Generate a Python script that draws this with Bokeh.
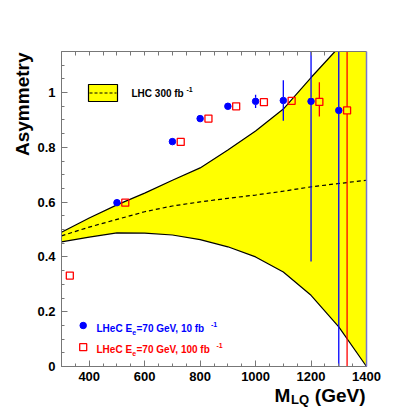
import numpy as np
from bokeh.plotting import figure
from bokeh.models import Label, LinearAxis, Range1d, FixedTicker
from bokeh.embed import file_html
from bokeh.resources import INLINE

# ---------------- data ----------------
band_mass = [300, 400, 500, 600, 700, 800, 900, 1000, 1100, 1200, 1300, 1400]
band_upper = [0.49, 0.542, 0.59, 0.633, 0.68, 0.725, 0.79, 0.86, 0.94, 1.055, 1.165, 1.28]
band_lower = [0.455, 0.472, 0.488, 0.487, 0.480, 0.463, 0.437, 0.40, 0.345, 0.26, 0.145, 0.0]
band_central = [0.477, 0.509, 0.537, 0.565, 0.586, 0.601, 0.614, 0.626, 0.64, 0.656, 0.668, 0.68]

lhec10_mass = [500, 700, 800, 900, 1000, 1100, 1200, 1300]
lhec10_asym = [0.598, 0.821, 0.905, 0.95, 0.968, 0.971, 0.968, 0.935]
lhec10_err_lo = [0.005, 0.006, 0.008, 0.012, 0.024, 0.074, 0.585, 1.0]
lhec10_err_hi = [0.005, 0.006, 0.008, 0.012, 0.024, 0.074, 0.585, 1.0]

lhec100_mass = [330, 530, 730, 830, 930, 1030, 1130, 1230, 1330]
lhec100_asym = [0.332, 0.598, 0.82, 0.905, 0.95, 0.965, 0.97, 0.966, 0.935]
lhec100_err_lo = [0.003, 0.003, 0.003, 0.004, 0.005, 0.008, 0.012, 0.053, 1.0]
lhec100_err_hi = [0.003, 0.003, 0.003, 0.004, 0.005, 0.008, 0.012, 0.072, 1.0]

x_ticks = [400, 600, 800, 1000, 1200, 1400]
y_ticks = [0, 0.2, 0.4, 0.6, 0.8, 1.0]
y_tick_labels = ["0", "0.2", "0.4", "0.6", "0.8", "1"]

# ---------------- geometry (canvas px) ----------------
W = H = 407
X0, X1, PX0, PX1 = 300.0, 1400.0, 61.0, 366.0   # data x range and its pixel span
Y0, Y1, PY0, PY1 = 0.0, 1.15, 366.0, 51.0       # data y range and its pixel span
SX = (X1 - X0) / (PX1 - PX0)
SY = (Y1 - Y0) / (PY0 - PY1)
BASE_K = 0.3   # renderer places the text slightly below the requested baseline


def px2x(px):
    return X0 + (px - PX0) * SX


def py2y(py):
    return Y0 + (PY0 - py) * SY


FONT = "Liberation Sans"
AX = "#777777"
MARK = 7  # marker size, px

# the frame covers the whole canvas; axes are pinned to the data box
p = figure(width=W, height=H, x_range=Range1d(px2x(0), px2x(W)), y_range=Range1d(py2y(H), py2y(0)),
           output_backend="svg", toolbar_location=None, min_border=0,
           x_axis_location=None, y_axis_location=None)
p.grid.visible = False
p.outline_line_color = None
p.background_fill_color = "white"
p.border_fill_color = "white"

x_minor = list(np.arange(300, 1401, 50))
y_minor = list(np.round(np.arange(0, 1.151, 0.05), 3))


def style(ax, major_in=6, minor_in=3):
    ax.axis_line_color = AX
    ax.major_tick_line_color = AX
    ax.minor_tick_line_color = AX
    ax.major_tick_in = major_in
    ax.major_tick_out = 0
    ax.minor_tick_in = minor_in
    ax.minor_tick_out = 0
    ax.major_label_text_font = FONT
    ax.major_label_text_font_style = "bold"
    ax.major_label_text_font_size = "13px"
    ax.major_label_text_color = "black"


xb = LinearAxis(fixed_location=Y0, bounds=(X0, X1),
                ticker=FixedTicker(ticks=x_ticks, minor_ticks=x_minor), major_label_standoff=5)
style(xb)
p.add_layout(xb, "below")

yl = LinearAxis(fixed_location=X0, bounds=(Y0, Y1),
                ticker=FixedTicker(ticks=y_ticks, minor_ticks=y_minor), major_label_standoff=6,
                major_label_overrides={t: s for t, s in zip(y_ticks, y_tick_labels)})
style(yl)
p.add_layout(yl, "left")

xt = LinearAxis(fixed_location=Y1, bounds=(X0, X1),
                ticker=FixedTicker(ticks=[], minor_ticks=[t for t in x_minor if t <= 1250]))
style(xt, 0, 4)
p.add_layout(xt, "above")

yr = LinearAxis(fixed_location=X1, bounds=(Y0, Y1), ticker=FixedTicker(ticks=[], minor_ticks=[]))
style(yr, 0, 0)
yr.axis_line_color = "#7878cc"
yr.axis_line_width = 1.5
p.add_layout(yr, "right")


# ---------------- band (clipped to the data box) ----------------
def clip_top(xs, ys, ytop):
    ox, oy = [xs[0]], [ys[0]]
    for i in range(1, len(xs)):
        xa, ya, xb_, yb = xs[i - 1], ys[i - 1], xs[i], ys[i]
        if (ya - ytop) * (yb - ytop) < 0:
            ox.append(xa + (ytop - ya) * (xb_ - xa) / (yb - ya))
            oy.append(ytop)
        ox.append(xb_)
        oy.append(yb)
    return np.array(ox), np.minimum(np.array(oy), ytop)


bx, bu = clip_top(band_mass, band_upper, Y1)
bl = np.interp(bx, band_mass, band_lower)
p.varea(x=bx, y1=bl, y2=bu, fill_color="#ffff00")
upper_vis = bu < Y1 - 1e-9
upper_vis[np.argmax(bu >= Y1 - 1e-9)] = True
p.line(bx[upper_vis], bu[upper_vis], line_color="black", line_width=1.2)
p.line(band_mass, band_lower, line_color="black", line_width=1.2)
p.line(band_mass, band_central, line_color="black", line_width=1.2, line_dash="4 3")


# ---------------- points ----------------
def error_bars(mass, asym, lo, hi, color):
    """Vertical error bars drawn outside the marker, clipped to the data box."""
    half = (MARK / 2) * SY
    x0, y0, y1 = [], [], []
    for m, a, l, h in zip(mass, asym, lo, hi):
        if h > half:
            x0.append(m); y0.append(a + half); y1.append(min(a + h, Y1))
        if l > half:
            x0.append(m); y0.append(max(a - l, Y0)); y1.append(a - half)
    p.segment(x0=x0, y0=y0, x1=x0, y1=y1, line_color=color, line_width=1.3)


error_bars(lhec10_mass, lhec10_asym, lhec10_err_lo, lhec10_err_hi, "blue")
p.scatter(lhec10_mass, lhec10_asym, marker="circle", size=MARK - 0.5, fill_color="blue",
          line_color="blue")

error_bars(lhec100_mass, lhec100_asym, lhec100_err_lo, lhec100_err_hi, "red")
p.scatter(lhec100_mass, lhec100_asym, marker="square", size=MARK, fill_color=None,
          line_color="red", line_width=1.3)

# ---------------- legends ----------------
p.quad(left=px2x(88), right=px2x(117), bottom=py2y(101), top=py2y(84),
       fill_color="#ffff00", line_color="black", line_width=1.2)
p.line([px2x(89), px2x(116)], [py2y(92.5), py2y(92.5)], line_color="black", line_width=1.2,
       line_dash="3 2")


def lab(px, py, text, size, color="black", align="left", angle=0.0):
    fs = float(size.replace("px", ""))
    if angle:
        px -= BASE_K * fs
    else:
        py -= BASE_K * fs
    p.add_layout(Label(x=px2x(px), y=py2y(py), text=text, text_font=FONT, text_font_style="bold",
                       text_font_size=size, text_color=color, text_align=align,
                       text_baseline="alphabetic", angle=angle))


lab(131, 96, "LHC 300 fb", "10px")
lab(186, 91.5, "-1", "7px")

p.scatter([px2x(82.7)], [py2y(325)], marker="circle", size=MARK - 0.5, fill_color="blue",
          line_color="blue")
p.scatter([px2x(82.7)], [py2y(346.7)], marker="square", size=MARK, fill_color=None,
          line_color="red", line_width=1.3)

lab(96, 331, "LHeC E", "10px", "blue")
lab(131.8, 334.3, "e", "7px", "blue")
lab(136, 331, "=70 GeV, 10 fb", "10px", "blue")
lab(210.5, 326.5, "-1", "7px", "blue")

lab(96, 351.7, "LHeC E", "10px", "red")
lab(131.8, 355, "e", "7px", "red")
lab(136, 351.7, "=70 GeV, 100 fb", "10px", "red")
lab(216, 347.2, "-1", "7px", "red")

# ---------------- axis titles ----------------
lab(27.5, 52, "Asymmetry", "19px", align="right", angle=np.pi / 2)
lab(274, 400.5, "M", "19px")
lab(290.5, 403, "LQ", "13px")
lab(365, 400.5, "(GeV)", "19px", align="right")

open("out.html", "w").write(file_html(p, INLINE))
